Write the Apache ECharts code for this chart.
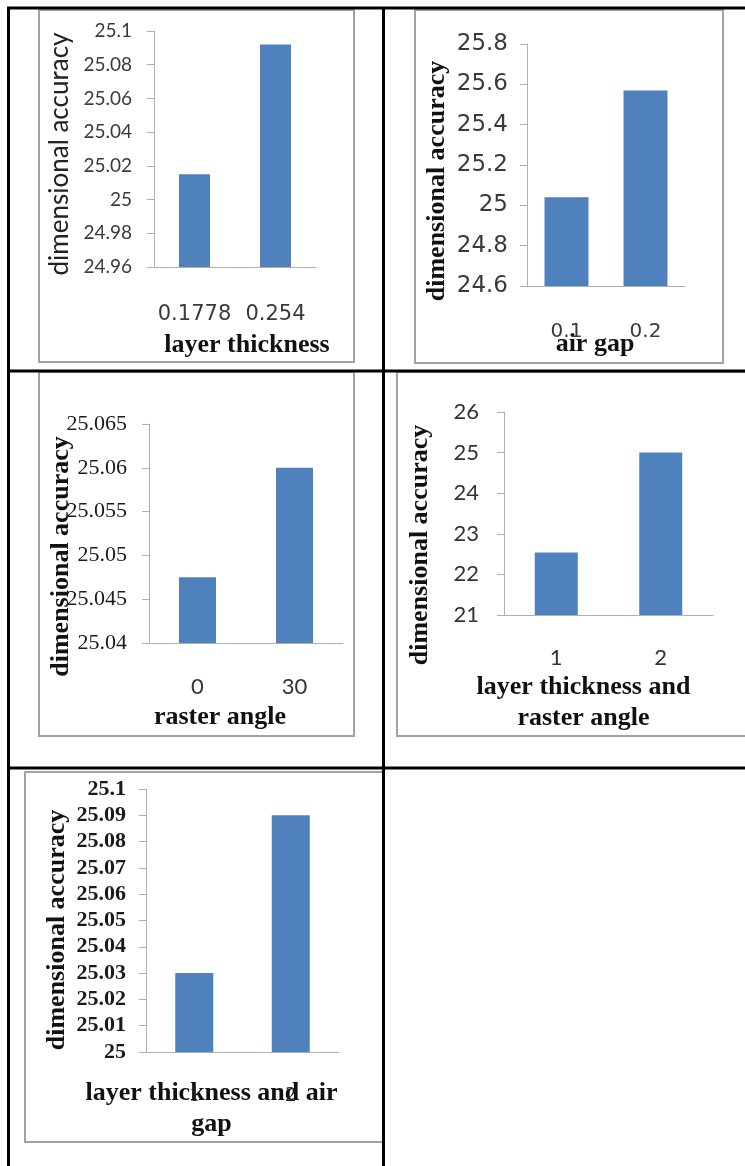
<!DOCTYPE html>
<html>
<head>
<meta charset="utf-8">
<title>Dimensional accuracy by process parameter</title>
<script src="https://cdn.jsdelivr.net/npm/echarts@6/dist/echarts.min.js"></script>
<style>
  html, body { margin: 0; padding: 0; background: #ffffff; }
  #chart { width: 745px; height: 1166px; }
</style>
</head>
<body>
<div id="chart"></div>
<script>
// ---- data ----
var yTitle = 'dimensional accuracy';

var layerCats = ['0.1778', '0.254'];
var layerVals = [25.015, 25.092];
var layerTicks = { min: 24.96, max: 25.1, interval: 0.02 };

var gapCats = ['0.1', '0.2'];
var gapVals = [25.04, 25.57];
var gapTicks = { min: 24.6, max: 25.8, interval: 0.2 };

var rasterCats = ['0', '30'];
var rasterVals = [25.0475, 25.06];
var rasterTicks = { min: 25.04, max: 25.065, interval: 0.005 };

var layerRasterCats = ['1', '2'];
var layerRasterVals = [22.54, 25.0];
var layerRasterTicks = { min: 21, max: 26, interval: 1 };

var layerGapCats = ['1', '2'];
var layerGapVals = [25.03, 25.09];
var layerGapTicks = { min: 25, max: 25.1, interval: 0.01 };

// ---- styling helpers ----
var BAR = '#4f81bd';
var AXIS = '#b0b0b0';
var FRAME = '#a3a3a3';
var SANS = 'Lato';
var WIDE = 'DejaVu Sans';
var SERIF = 'Liberation Serif';

var panels = [
  { grid: { left: 154, top: 31, width: 162, height: 236 },
    cats: layerCats, vals: layerVals, ticks: layerTicks, barWidth: 31,
    yLab: { fontFamily: SANS, fontSize: 19, fontWeight: 'normal', color: '#3a3a3a', margin: 22 },
    xLab: { fontFamily: WIDE, fontSize: 21, color: '#3a3a3a', margin: 37 },
    yName: { fontFamily: SANS, fontSize: 26, fontWeight: 'normal', color: '#222', gap: 81, shift: 10 },
    xName: { text: 'layer thickness', gap: 63, padding: [0, 0, 0, 24] } },
  { grid: { left: 527, top: 44, width: 158, height: 242 },
    cats: gapCats, vals: gapVals, ticks: gapTicks, barWidth: 44,
    yLab: { fontFamily: WIDE, fontSize: 23, fontWeight: 'normal', color: '#3a3a3a', margin: 19 },
    xLab: { fontFamily: WIDE, fontSize: 20, color: '#3a3a3a', margin: 36 },
    yName: { fontFamily: SERIF, fontSize: 26, fontWeight: 'bold', color: '#111', gap: 77, shift: 32 },
    xName: { text: 'air gap', gap: 43, padding: [0, 22, 0, 0] } },
  { grid: { left: 149, top: 424, width: 194, height: 219 },
    cats: rasterCats, vals: rasterVals, ticks: rasterTicks, barWidth: 37,
    yLab: { fontFamily: SERIF, fontSize: 22, fontWeight: 'normal', color: '#1a1a1a', margin: 22 },
    xLab: { fontFamily: SANS, fontSize: 22, color: '#333', margin: 33 },
    yName: { fontFamily: SERIF, fontSize: 26, fontWeight: 'bold', color: '#111', gap: 75, shift: 46 },
    xName: { text: 'raster angle', gap: 59, padding: [0, 52, 0, 0] } },
  { grid: { left: 504, top: 412, width: 209, height: 203 },
    cats: layerRasterCats, vals: layerRasterVals, ticks: layerRasterTicks, barWidth: 43,
    yLab: { fontFamily: SANS, fontSize: 22, fontWeight: 'normal', color: '#333', margin: 25 },
    xLab: { fontFamily: SANS, fontSize: 22, color: '#333', margin: 32 },
    yName: { fontFamily: SERIF, fontSize: 26, fontWeight: 'bold', color: '#111', gap: 71, shift: 63 },
    xName: { text: 'layer thickness and\nraster angle', gap: 57, padding: [0, 50, 0, 0] } },
  { grid: { left: 146, top: 789, width: 193, height: 263 },
    cats: layerGapCats, vals: layerGapVals, ticks: layerGapTicks, barWidth: 38,
    yLab: { fontFamily: SERIF, fontSize: 22, fontWeight: 'bold', color: '#1a1a1a', margin: 20 },
    xLab: { fontFamily: SERIF, fontSize: 22, color: '#222', margin: 32 },
    yName: { fontFamily: SERIF, fontSize: 26, fontWeight: 'bold', color: '#111', gap: 76, shift: 19 },
    xName: { text: 'layer thickness and air\ngap', gap: 26, padding: [0, 62, 0, 0] } }
];

var grids = [], xAxes = [], yAxes = [], series = [];

panels.forEach(function (p, i) {
  grids.push(Object.assign({ containLabel: false, outerBoundsMode: 'none' }, p.grid));

  xAxes.push({
    type: 'category', gridIndex: i, data: p.cats,
    axisLine: { lineStyle: { color: AXIS, width: 1 } },
    axisTick: { show: false },
    axisLabel: { fontFamily: p.xLab.fontFamily, fontSize: p.xLab.fontSize, color: p.xLab.color, margin: p.xLab.margin, interval: 0 },
    splitLine: { show: false },
    name: p.xName.text, nameLocation: 'middle', nameGap: p.xName.gap, nameMoveOverlap: false,
    nameTextStyle: { fontFamily: SERIF, fontSize: 26, fontWeight: 'bold', color: '#111', lineHeight: 31, padding: p.xName.padding }
  });

  yAxes.push({
    type: 'value', gridIndex: i,
    min: p.ticks.min, max: p.ticks.max, interval: p.ticks.interval,
    axisLine: { show: true, lineStyle: { color: AXIS, width: 1 } },
    axisTick: { show: true, inside: false, length: 7, lineStyle: { color: AXIS } },
    axisLabel: { fontFamily: p.yLab.fontFamily, fontSize: p.yLab.fontSize, fontWeight: p.yLab.fontWeight, color: p.yLab.color, margin: p.yLab.margin },
    splitLine: { show: false },
    name: yTitle, nameLocation: 'middle', nameGap: p.yName.gap, nameRotate: 90, nameMoveOverlap: false,
    nameTextStyle: { fontFamily: p.yName.fontFamily, fontSize: p.yName.fontSize, fontWeight: p.yName.fontWeight, color: p.yName.color, padding: [0, p.yName.shift, 0, 0] }
  });

  series.push({
    type: 'bar', xAxisIndex: i, yAxisIndex: i, data: p.vals,
    barWidth: p.barWidth, itemStyle: { color: BAR },
    silent: true, animation: false
  });
});

// chart frames and table rules
function frame(x1, y1, x2, y2) {
  return { type: 'rect', silent: true, z: 0,
    shape: { x: x1, y: y1, width: x2 - x1, height: y2 - y1 },
    style: { fill: null, stroke: FRAME, lineWidth: 2 } };
}
function rule(x1, y1, x2, y2) {
  return { type: 'line', silent: true, z: 100,
    shape: { x1: x1, y1: y1, x2: x2, y2: y2 },
    style: { stroke: '#000', lineWidth: 3 } };
}

var graphics = [
  frame(39, 10, 354, 362),
  frame(415, 10, 723, 363),
  frame(39, 372, 354, 736),
  frame(397, 372, 760, 736),
  frame(25, 772, 384, 1142),
  rule(7, 8, 745, 8),
  rule(8.5, 7, 8.5, 1166),
  rule(383.5, 7, 383.5, 1166),
  rule(7, 371, 745, 371),
  rule(7, 768, 745, 768)
];

var chart = echarts.init(document.getElementById('chart'), null, { renderer: 'canvas' });
chart.setOption({
  backgroundColor: '#ffffff',
  animation: false,
  grid: grids,
  xAxis: xAxes,
  yAxis: yAxes,
  series: series,
  graphic: graphics
});
</script>
</body>
</html>
